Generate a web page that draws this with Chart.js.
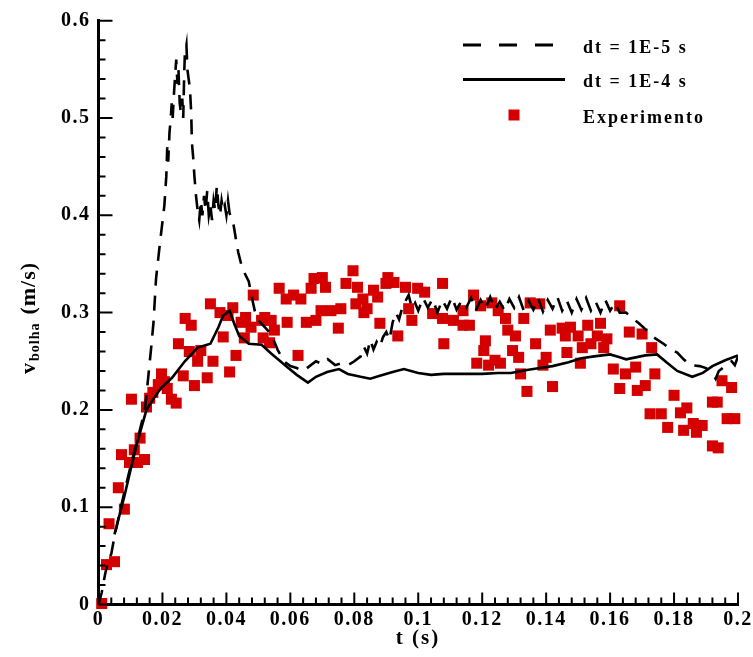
<!DOCTYPE html>
<html><head><meta charset="utf-8">
<script src="https://cdn.jsdelivr.net/npm/chart.js@4.4.1/dist/chart.umd.min.js"></script>
<style>html,body{margin:0;padding:0;background:#fff;}</style>
</head><body>
<canvas id="c" width="753" height="657"></canvas>
<script>
// ---------- tick labels ----------
const xTicks = [0, 0.02, 0.04, 0.06, 0.08, 0.1, 0.12, 0.14, 0.16, 0.18, 0.2];
const yTicks = [0, 0.1, 0.2, 0.3, 0.4, 0.5, 0.6];

// ---------- series labels ----------
const seriesNames = ['dt = 1E-5 s', 'dt = 1E-4 s', 'Experimento'];

// ---------- dt = 1E-5 s (dashed) ----------
const tFine = [0,0.001,0.002,0.003,0.004,0.005,0.007,0.009,0.011,0.013,0.0145,0.0156,0.0165,0.0172,0.018,0.019,0.0197,0.0206,0.0212,0.0215,0.0218,0.0222,0.0226,0.0229,0.0232,0.0236,0.024,0.0243,0.0247,0.025,0.0254,0.0258,0.0262,0.0265,0.0268,0.027,0.0275,0.0278,0.0282,0.0286,0.029,0.0292,0.0296,0.030,0.0305,0.031,0.0315,0.032,0.0325,0.033,0.0335,0.034,0.0345,0.035,0.0355,0.036,0.0365,0.037,0.0375,0.038,0.0385,0.039,0.0395,0.04,0.0405,0.041,0.042,0.043,0.0437,0.045,0.047,0.048,0.049,0.05,0.052,0.054,0.056,0.058,0.06,0.062,0.064,0.066,0.068,0.07,0.0717,0.074,0.076,0.078,0.08,0.082,0.083,0.084,0.085,0.086,0.087,0.088,0.089,0.09,0.091,0.092,0.093,0.094,0.095,0.096,0.097,0.098,0.099,0.1,0.1015,0.103,0.1045,0.106,0.1075,0.109,0.1105,0.112,0.1135,0.115,0.1165,0.118,0.1195,0.121,0.1225,0.124,0.1255,0.127,0.1285,0.13,0.1315,0.133,0.1345,0.136,0.1375,0.139,0.1405,0.142,0.1435,0.145,0.1465,0.148,0.1495,0.151,0.1525,0.154,0.1555,0.157,0.1585,0.16,0.1615,0.163,0.165,0.167,0.169,0.171,0.173,0.1767,0.179,0.181,0.183,0.185,0.188,0.19,0.192,0.193,0.194,0.196,0.198,0.199,0.2];
const vFine = [0,0.012,0.03,0.045,0.052,0.07,0.1,0.128,0.155,0.18,0.2,0.235,0.265,0.29,0.335,0.365,0.385,0.41,0.44,0.47,0.455,0.485,0.5,0.515,0.5,0.525,0.545,0.56,0.535,0.55,0.515,0.505,0.52,0.5,0.545,0.565,0.575,0.55,0.54,0.53,0.505,0.475,0.46,0.44,0.42,0.405,0.395,0.415,0.4,0.42,0.405,0.425,0.4,0.41,0.395,0.415,0.405,0.43,0.41,0.4,0.415,0.405,0.41,0.4,0.415,0.402,0.395,0.375,0.362,0.345,0.332,0.315,0.3,0.292,0.285,0.278,0.262,0.25,0.245,0.243,0.24,0.245,0.25,0.247,0.252,0.246,0.248,0.246,0.25,0.255,0.265,0.258,0.272,0.262,0.27,0.265,0.275,0.28,0.272,0.29,0.3,0.293,0.305,0.312,0.318,0.305,0.31,0.302,0.315,0.305,0.314,0.3,0.313,0.304,0.316,0.303,0.312,0.305,0.315,0.302,0.313,0.304,0.316,0.303,0.311,0.302,0.314,0.305,0.316,0.302,0.312,0.303,0.315,0.301,0.313,0.304,0.316,0.302,0.312,0.3,0.314,0.303,0.315,0.302,0.311,0.3,0.313,0.302,0.31,0.3,0.3,0.294,0.289,0.283,0.276,0.268,0.262,0.259,0.252,0.246,0.245,0.243,0.238,0.232,0.24,0.245,0.25,0.246,0.255];

// ---------- dt = 1E-4 s (solid) ----------
const tCoarse = [0.005,0.008,0.010,0.012,0.015,0.0175,0.0197,0.023,0.027,0.031,0.035,0.0375,0.039,0.041,0.0424,0.044,0.047,0.051,0.054,0.059,0.062,0.0655,0.068,0.0715,0.0752,0.078,0.082,0.085,0.088,0.092,0.0955,0.1,0.104,0.108,0.112,0.116,0.12,0.125,0.129,0.134,0.138,0.142,0.147,0.151,0.155,0.16,0.163,0.165,0.168,0.171,0.1747,0.178,0.181,0.1857,0.189,0.192,0.196,0.2];
const vCoarse = [0.072,0.11,0.138,0.165,0.2,0.213,0.223,0.233,0.25,0.264,0.268,0.285,0.297,0.302,0.289,0.276,0.268,0.267,0.258,0.244,0.236,0.228,0.234,0.239,0.242,0.237,0.234,0.232,0.235,0.239,0.242,0.238,0.236,0.237,0.237,0.237,0.237,0.238,0.238,0.241,0.243,0.245,0.249,0.253,0.255,0.257,0.254,0.252,0.254,0.256,0.257,0.248,0.24,0.234,0.238,0.245,0.251,0.256];

// ---------- Experimento ----------
const expT = [0.001,0.0025,0.005,0.0033,0.0081,0.0062,0.0072,0.0112,0.0097,0.0122,0.0144,0.013,0.0103,0.015,0.016,0.017,0.0187,0.0197,0.0206,0.0215,0.0228,0.0243,0.0265,0.025,0.0284,0.03,0.031,0.032,0.034,0.0358,0.0271,0.029,0.039,0.041,0.043,0.035,0.038,0.042,0.0405,0.0446,0.046,0.0484,0.0477,0.0456,0.051,0.0515,0.0535,0.0565,0.0587,0.061,0.0633,0.0674,0.070,0.071,0.0665,0.0796,0.0774,0.081,0.0827,0.084,0.086,0.0873,0.0905,0.0924,0.0899,0.052,0.054,0.055,0.059,0.065,0.068,0.0696,0.0727,0.0758,0.075,0.0805,0.083,0.0624,0.088,0.0936,0.096,0.0998,0.102,0.1076,0.097,0.098,0.1045,0.1076,0.111,0.114,0.114,0.116,0.108,0.1173,0.1195,0.123,0.125,0.1273,0.128,0.1304,0.121,0.1205,0.1183,0.122,0.124,0.1257,0.1295,0.1314,0.132,0.134,0.133,0.135,0.138,0.163,0.1413,0.145,0.1476,0.15,0.146,0.153,0.157,0.156,0.159,0.158,0.1513,0.154,0.1465,0.1367,0.14,0.139,0.1507,0.142,0.166,0.161,0.1648,0.168,0.163,0.1685,0.17,0.173,0.171,0.174,0.18,0.1725,0.176,0.178,0.182,0.184,0.183,0.186,0.1888,0.187,0.192,0.1935,0.1966,0.199,0.192,0.1938,0.195,0.198];
const expV = [0.001,0.041,0.044,0.083,0.098,0.12,0.154,0.159,0.146,0.146,0.149,0.171,0.211,0.203,0.212,0.218,0.226,0.237,0.229,0.222,0.211,0.207,0.235,0.268,0.26,0.225,0.25,0.261,0.233,0.25,0.294,0.287,0.275,0.239,0.256,0.309,0.30,0.305,0.297,0.29,0.295,0.318,0.285,0.274,0.292,0.274,0.269,0.325,0.314,0.318,0.314,0.335,0.336,0.326,0.325,0.343,0.33,0.326,0.314,0.304,0.323,0.316,0.336,0.331,0.33,0.295,0.292,0.282,0.29,0.29,0.292,0.302,0.302,0.304,0.284,0.309,0.30,0.256,0.289,0.276,0.326,0.325,0.321,0.33,0.304,0.292,0.299,0.294,0.292,0.302,0.287,0.287,0.268,0.318,0.307,0.31,0.302,0.294,0.282,0.276,0.271,0.261,0.248,0.246,0.251,0.248,0.261,0.254,0.237,0.219,0.294,0.31,0.309,0.307,0.282,0.284,0.285,0.276,0.276,0.287,0.289,0.276,0.273,0.264,0.264,0.268,0.259,0.268,0.254,0.246,0.248,0.224,0.28,0.242,0.237,0.244,0.222,0.22,0.278,0.264,0.225,0.237,0.215,0.196,0.196,0.182,0.197,0.202,0.179,0.186,0.184,0.177,0.208,0.208,0.191,0.191,0.163,0.161,0.23,0.223];

const FONT = "'Liberation Serif','Times New Roman',serif";
const RED = '#d40000';
const toXY = (ts, vs) => ts.map((t, i) => ({x: t, y: vs[i]}));
const fmt = v => String(Number(v.toFixed(2)));

// letter spacing for Tecplot-like tick labels
const spacing = {
  id: 'spacing',
  beforeDraw(chart) { chart.ctx.letterSpacing = '1.5px'; },
  afterDatasetsDraw(chart) { chart.ctx.letterSpacing = '0px'; }
};

// inward ticks, axis titles, legend
const decor = {
  id: 'decor',
  afterDraw(chart) {
    const ctx = chart.ctx;
    const xs = chart.scales.x, ys = chart.scales.y;
    const ca = chart.chartArea;
    ctx.save();
    ctx.letterSpacing = '0px';
    ctx.strokeStyle = '#000';
    ctx.lineWidth = 2;
    ctx.beginPath();
    for (let i = 0; i < xTicks.length; i++) {
      const px = xs.getPixelForValue(xTicks[i]);
      ctx.moveTo(px, ca.bottom); ctx.lineTo(px, ca.bottom - 12);
      if (i < xTicks.length - 1) {
        const step = xTicks[i + 1] - xTicks[i];
        for (let k = 1; k < 5; k++) {
          const mx = xs.getPixelForValue(xTicks[i] + step * k / 5);
          ctx.moveTo(mx, ca.bottom); ctx.lineTo(mx, ca.bottom - 7);
        }
      }
    }
    for (let i = 0; i < yTicks.length; i++) {
      const py = ys.getPixelForValue(yTicks[i]);
      ctx.moveTo(ca.left, py); ctx.lineTo(ca.left + 14, py);
      if (i < yTicks.length - 1) {
        const step = yTicks[i + 1] - yTicks[i];
        for (let k = 1; k < 5; k++) {
          const my = ys.getPixelForValue(yTicks[i] + step * k / 5);
          ctx.moveTo(ca.left, my); ctx.lineTo(ca.left + 7, my);
        }
      }
    }
    ctx.stroke();

    ctx.fillStyle = '#000';
    // x title
    ctx.letterSpacing = '2px';
    ctx.font = 'bold 21px ' + FONT;
    ctx.textAlign = 'center';
    ctx.textBaseline = 'alphabetic';
    ctx.fillText('t (s)', 418, 644);
    // y title
    ctx.save();
    ctx.translate(35, 374);
    ctx.rotate(-Math.PI / 2);
    ctx.textAlign = 'left';
    ctx.letterSpacing = '1px';
    ctx.font = 'bold 22px ' + FONT;
    ctx.fillText('v', 0, 0);
    let w = ctx.measureText('v').width + 1;
    ctx.font = 'bold 14px ' + FONT;
    ctx.fillText('bolha', w, 4);
    w += ctx.measureText('bolha').width + 8;
    ctx.font = 'bold 22px ' + FONT;
    ctx.fillText('(m/s)', w, 0);
    ctx.restore();

    // legend
    const ds = chart.data.datasets;
    const rows = [45, 79.5, 115];
    ctx.font = 'bold 18px ' + FONT;
    ctx.letterSpacing = '2px';
    ctx.textAlign = 'left';
    for (let i = 0; i < ds.length; i++) {
      const y = rows[i];
      const d = ds[i];
      if (d.showLine) {
        ctx.save();
        ctx.strokeStyle = d.borderColor;
        ctx.lineWidth = 3;
        ctx.setLineDash(d.borderDash && d.borderDash.length ? [18, 18] : []);
        ctx.beginPath();
        ctx.moveTo(463, y); ctx.lineTo(565, y);
        ctx.stroke();
        ctx.restore();
      } else {
        ctx.fillStyle = d.backgroundColor;
        ctx.fillRect(514 - 5.5, y - 5.5, 11, 11);
      }
      ctx.fillStyle = '#000';
      ctx.fillText(d.label, 583, y + 7.5);
    }
    ctx.restore();
  }
};

new Chart(document.getElementById('c'), {
  type: 'scatter',
  data: {
    datasets: [
      { label: seriesNames[0], data: toXY(tFine, vFine), showLine: true, borderColor: '#000', backgroundColor: '#000',
        borderWidth: 2.6, borderDash: [15, 10], pointRadius: 0, tension: 0 },
      { label: seriesNames[1], data: toXY(tCoarse, vCoarse), showLine: true, borderColor: '#000', backgroundColor: '#000',
        borderWidth: 2.6, pointRadius: 0, tension: 0 },
      { label: seriesNames[2], data: toXY(expT, expV), showLine: false, pointStyle: 'rect', pointRadius: 7.8,
        backgroundColor: RED, borderColor: RED, borderWidth: 0, clip: false }
    ]
  },
  options: {
    responsive: false,
    animation: false,
    devicePixelRatio: 1,
    layout: { padding: { top: 20.7, right: 15, left: 0, bottom: 0 }, autoPadding: false },
    plugins: { legend: { display: false }, tooltip: { enabled: false } },
    scales: {
      x: {
        type: 'linear', position: 'bottom', min: 0, max: 0.2,
        grid: { display: false, drawTicks: false },
        border: { display: true, width: 3, color: '#000' },
        ticks: { padding: 3, color: '#000', autoSkip: false, maxRotation: 0,
                 font: { family: FONT, size: 20, weight: 'bold' }, callback: v => fmt(v) },
        afterBuildTicks: s => { s.ticks = xTicks.map(v => ({ value: v })); },
        afterFit: s => { s.height = 52.5; s.paddingLeft = 0; s.paddingRight = 0; }
      },
      y: {
        type: 'linear', position: 'left', min: 0, max: 0.6,
        grid: { display: false, drawTicks: false },
        border: { display: true, width: 3, color: '#000' },
        ticks: { padding: 8, color: '#000', autoSkip: false,
                 font: { family: FONT, size: 20, weight: 'bold' }, callback: v => fmt(v) },
        afterBuildTicks: s => { s.ticks = yTicks.map(v => ({ value: v })); },
        afterFit: s => { s.width = 98.5; s.paddingTop = 0; s.paddingBottom = 0; }
      }
    }
  },
  plugins: [spacing, decor]
});
</script>
</body></html>
